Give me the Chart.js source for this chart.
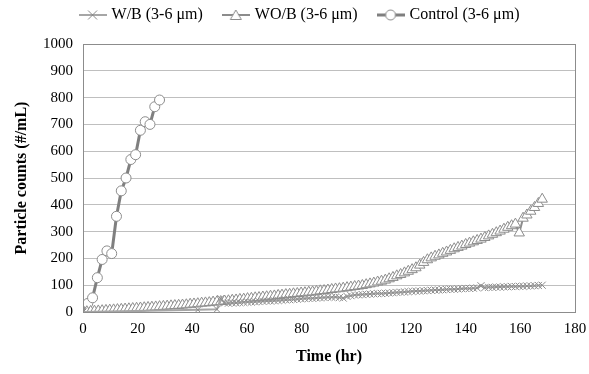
<!DOCTYPE html>
<html>
<head>
<meta charset="utf-8">
<script src="https://cdn.jsdelivr.net/npm/chart.js@4"></script>
<style>
  html, body { margin: 0; padding: 0; background: #fff; }
  #wrap { width: 589px; height: 374px; }
</style>
</head>
<body>
<div id="wrap"><canvas id="chart" width="589" height="374"></canvas></div>
<script>
// sample times (hr) shared by the W/B and WO/B runs
const sampleTimes = [0,1.4,2.8,4.2,5.6,7,8.4,9.8,11.2,12.6,14,15.4,16.8,18.2,19.6,21,22.4,23.8,25.2,26.6,
  28,29.4,30.8,32.2,33.6,35,36.4,37.8,39.2,40.6,42,43.4,44.8,46.2,47.6,49,50.4,51.8,53.2,54.6,
  56,57.4,58.8,60.2,61.6,63,64.4,65.8,67.2,68.6,70,71.4,72.8,74.2,75.6,77,78.4,79.8,81.2,82.6,
  84,85.4,86.8,88.2,89.6,91,92.4,93.8,95.2,96.6,98,99.4,100.8,102.2,103.6,105,106.4,107.8,109.2,110.6,
  112,113.4,114.8,116.2,117.6,119,120.4,121.8,123.2,124.6,126,127.4,128.8,130.2,131.6,133,134.4,135.8,137.2,138.6,
  140,141.4,142.8,144.2,145.6,147,148.4,149.8,151.2,152.6,154,155.4,156.8,158.2,159.6,161,162.4,163.8,165.2,166.6,168];

const wbCounts = [0,null,null,null,null,null,null,null,null,null,null,null,null,null,null,null,null,null,null,null,
  null,null,null,null,null,null,null,null,null,null,8,null,null,null,null,10,50,34,33,34,
  34,35,36,37,37,38,39,40,41,41,42,43,44,45,46,47,48,49,50,51,
  51,52,53,54,55,55,56,54,52,58,61,63,64,65,66,67,68,69,69,70,
  71,72,73,74,75,76,77,78,78,79,80,81,82,82,83,84,85,85,86,87,
  88,88,89,90,98,91,92,92,93,93,94,94,95,95,96,96,97,97,98,99,100];

const wobCounts = [0,1,2,3,4,5,6,7,8,9,10,11,12,13,14,15,16,17,18,19,
  20,21,22,23,24,25,26,27,29,30,31,33,34,35,37,38,39,41,42,44,
  45,47,48,50,51,53,54,56,57,59,60,62,63,65,66,68,69,71,72,74,
  75,77,79,80,82,84,86,87,89,91,93,95,97,99,102,105,108,112,115,119,
  124,129,135,140,146,152,158,165,175,185,195,202,208,213,219,224,230,236,241,246,
  252,257,262,267,272,278,284,290,296,302,309,316,322,328,295,350,362,376,390,405,421];

const controlTimes = [0,1.75,3.5,5.25,7,8.75,10.5,12.25,14,15.75,17.5,19.25,21,22.75,24.5,26.25,28];
const controlCounts = [0,32,53,128,196,228,218,357,452,500,569,587,678,710,700,766,791];

const seriesNames = ['W/B (3-6 μm)', 'WO/B (3-6 μm)', 'Control (3-6 μm)'];

function pairs(xs, ys) {
  return xs.map((x, i) => ({ x: x, y: ys[i] }));
}

// little line+marker picture for the legend, like the Excel key
function legendIcon(style, lineColor, lineWidth) {
  const c = document.createElement('canvas');
  c.width = 28; c.height = 12;
  const ctx = c.getContext('2d');
  ctx.strokeStyle = lineColor;
  ctx.lineWidth = lineWidth;
  ctx.beginPath(); ctx.moveTo(0, 6); ctx.lineTo(28, 6); ctx.stroke();
  ctx.lineWidth = 1;
  ctx.strokeStyle = '#8c8c8c';
  ctx.fillStyle = '#fff';
  if (style === 'cross') {
    ctx.beginPath();
    ctx.moveTo(9.5, 1.5); ctx.lineTo(18.5, 10.5);
    ctx.moveTo(18.5, 1.5); ctx.lineTo(9.5, 10.5);
    ctx.stroke();
  } else if (style === 'triangle') {
    ctx.beginPath();
    ctx.moveTo(14, 1); ctx.lineTo(19.5, 10.5); ctx.lineTo(8.5, 10.5); ctx.closePath();
    ctx.fill(); ctx.stroke();
  } else {
    ctx.beginPath(); ctx.arc(14, 6, 5, 0, Math.PI * 2);
    ctx.fill(); ctx.stroke();
  }
  return c;
}

const icons = [
  legendIcon('cross', '#a6a6a6', 2),
  legendIcon('triangle', '#8c8c8c', 2),
  legendIcon('circle', '#7f7f7f', 3)
];

// fixed legend band so the plot starts where the reference does,
// and lift the legend row up near the top edge
const legendBand = {
  id: 'legendBand',
  afterInit(chart) {
    const lg = chart.legend;
    if (!lg) return;
    const fit = lg.fit.bind(lg);
    lg.fit = function() { fit(); this.height = 38; };
    const draw = lg.draw.bind(lg);
    lg.draw = function() {
      const ctx = chart.ctx;
      ctx.save();
      ctx.translate(4, -21);
      draw();
      ctx.restore();
    };
  }
};

const plotBorder = {
  id: 'plotBorder',
  afterDraw(chart) {
    const a = chart.chartArea, ctx = chart.ctx;
    ctx.save();
    ctx.strokeStyle = '#8c8c8c';
    ctx.lineWidth = 1;
    ctx.strokeRect(Math.round(a.left) + 0.5, Math.round(a.top) + 0.5,
      Math.round(a.right - a.left), Math.round(a.bottom - a.top));
    ctx.restore();
  }
};

new Chart(document.getElementById('chart'), {
  type: 'line',
  data: {
    datasets: [
      {
        label: seriesNames[0],
        data: pairs(sampleTimes, wbCounts),
        borderColor: '#a6a6a6',
        borderWidth: 2,
        pointStyle: 'crossRot',
        pointRadius: 5,
        pointBorderColor: '#8c8c8c',
        pointBorderWidth: 1,
        backgroundColor: '#fff',
        spanGaps: true
      },
      {
        label: seriesNames[1],
        data: pairs(sampleTimes, wobCounts),
        borderColor: '#8c8c8c',
        borderWidth: 2,
        pointStyle: 'triangle',
        pointRadius: 6,
        pointBackgroundColor: '#fff',
        pointBorderColor: '#8c8c8c',
        pointBorderWidth: 1,
        backgroundColor: '#fff'
      },
      {
        label: seriesNames[2],
        data: pairs(controlTimes, controlCounts),
        borderColor: '#7f7f7f',
        borderWidth: 3,
        pointStyle: 'circle',
        pointRadius: 5,
        pointBackgroundColor: '#fff',
        pointBorderColor: '#8c8c8c',
        pointBorderWidth: 1,
        backgroundColor: '#fff'
      }
    ]
  },
  options: {
    responsive: false,
    animation: false,
    layout: { padding: { left: 8, right: 4, top: 6, bottom: 4 } },
    plugins: {
      tooltip: { enabled: false },
      legend: {
        position: 'top',
        labels: {
          usePointStyle: true,
          pointStyleWidth: 22,
          color: '#000',
          font: { family: 'Liberation Serif', size: 16 },
          padding: 22,
          generateLabels(chart) {
            return chart.data.datasets.map((ds, i) => ({
              text: ds.label,
              pointStyle: icons[i],
              fillStyle: '#fff',
              strokeStyle: '#fff',
              lineWidth: 0,
              fontColor: '#000',
              datasetIndex: i
            }));
          }
        }
      }
    },
    scales: {
      x: {
        type: 'linear',
        min: 0,
        max: 180,
        ticks: { stepSize: 20, color: '#000', font: { family: 'Liberation Serif', size: 15 }, padding: 8 },
        grid: { display: false, drawTicks: false },
        border: { color: '#8c8c8c' },
        title: {
          display: true,
          text: 'Time (hr)',
          color: '#000',
          font: { family: 'Liberation Serif', size: 16, weight: 'bold' },
          padding: { top: 8 }
        },
        afterFit(scale) { scale.height = 58; scale.paddingRight = 14; }
      },
      y: {
        min: 0,
        max: 1000,
        ticks: {
          stepSize: 100,
          color: '#000',
          font: { family: 'Liberation Serif', size: 15 },
          padding: 10,
          callback: (v) => String(v)
        },
        grid: { color: '#bfbfbf', drawTicks: false },
        border: { color: '#8c8c8c' },
        title: {
          display: true,
          text: 'Particle counts (#/mL)',
          color: '#000',
          font: { family: 'Liberation Serif', size: 16, weight: 'bold' },
          padding: { bottom: 10 }
        },
        afterFit(scale) { scale.width = 75; }
      }
    }
  },
  plugins: [legendBand, plotBorder]
});
</script>
</body>
</html>
